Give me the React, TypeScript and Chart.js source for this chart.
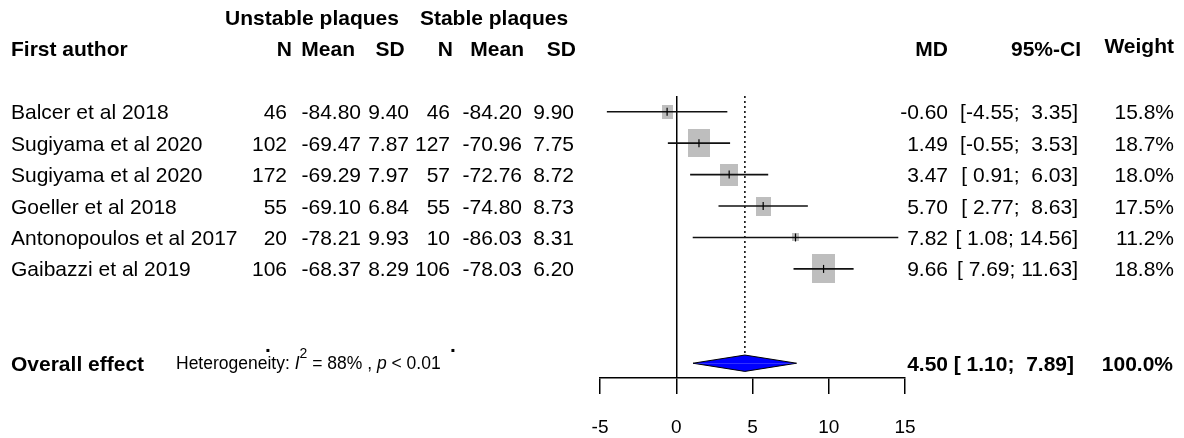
import React, { useEffect, useRef } from "react";
import { Chart, registerables } from "chart.js";

Chart.register(...registerables);

// ---------- data ----------
const authors = [
  "Balcer et al 2018",
  "Sugiyama et al 2020",
  "Sugiyama et al 2020",
  "Goeller et al 2018",
  "Antonopoulos et al 2017",
  "Gaibazzi et al 2019",
];
const nUnstable = [46, 102, 172, 55, 20, 106];
const meanUnstable = [-84.8, -69.47, -69.29, -69.1, -78.21, -68.37];
const sdUnstable = [9.4, 7.87, 7.97, 6.84, 9.93, 8.29];
const nStable = [46, 127, 57, 55, 10, 106];
const meanStable = [-84.2, -70.96, -72.76, -74.8, -86.03, -78.03];
const sdStable = [9.9, 7.75, 8.72, 8.73, 8.31, 6.2];
const md = [-0.6, 1.49, 3.47, 5.7, 7.82, 9.66];
const ciLower = [-4.55, -0.55, 0.91, 2.77, 1.08, 7.69];
const ciUpper = [3.35, 3.53, 6.03, 8.63, 14.56, 11.63];
const weights = [15.8, 18.7, 18.0, 17.5, 11.2, 18.8];
const overall = { md: 4.5, lower: 1.1, upper: 7.89, weight: 100.0 };
const heterogeneityI2 = 88;
const heterogeneityP = "< 0.01";
const xTicks = [-5, 0, 5, 10, 15];

// ---------- layout ----------
const FONT = '"Liberation Sans", Arial, Helvetica, sans-serif';
const FS = 21;
const GROUP_ROW = -3;
const HEADER_ROW = -2;
const OVERALL_ROW = authors.length + 2;
const DIAMOND_HALF = 0.26;

const fmt = (v: number) => v.toFixed(2);
const loStr = ciLower.concat([overall.lower]).map(fmt);
const hiStr = ciUpper.concat([overall.upper]).map(fmt);
const loW = Math.max(...loStr.map((s) => s.length));
const hiW = Math.max(...hiStr.map((s) => s.length));
const ciText = (i: number) =>
  "[" + loStr[i].padStart(loW, " ") + "; " + hiStr[i].padStart(hiW, " ") + "]";

const textPlugin = {
  id: "forestText",
  afterDraw(chart: any) {
    const ctx = chart.ctx as CanvasRenderingContext2D;
    const ys = chart.scales.y;
    const rowY = (r: number) => ys.getPixelForValue(r);
    const put = (
      t: string,
      x: number,
      r: number,
      align: CanvasTextAlign,
      bold = false,
      size = FS
    ) => {
      ctx.font = `${bold ? "bold " : ""}${size}px ${FONT}`;
      ctx.textAlign = align;
      ctx.textBaseline = "alphabetic";
      ctx.fillStyle = "#000";
      ctx.fillText(t, x, rowY(r) + (size * 0.716) / 2);
    };
    ctx.save();
    // group headers
    put("Unstable plaques", 312, GROUP_ROW, "center", true);
    put("Stable plaques", 494, GROUP_ROW, "center", true);
    // column headers
    put("First author", 11, HEADER_ROW, "left", true);
    put("N", 292, HEADER_ROW, "right", true);
    put("Mean", 355, HEADER_ROW, "right", true);
    put("SD", 390, HEADER_ROW, "center", true);
    put("N", 453, HEADER_ROW, "right", true);
    put("Mean", 524, HEADER_ROW, "right", true);
    put("SD", 576, HEADER_ROW, "right", true);
    put("MD", 948, HEADER_ROW, "right", true);
    put("95%-CI", 1081, HEADER_ROW, "right", true);
    put("Weight", 1174, HEADER_ROW - 0.1, "right", true);
    // study rows
    authors.forEach((a, i) => {
      put(a, 11, i, "left");
      put(String(nUnstable[i]), 287, i, "right");
      put(fmt(meanUnstable[i]), 361, i, "right");
      put(fmt(sdUnstable[i]), 409, i, "right");
      put(String(nStable[i]), 450, i, "right");
      put(fmt(meanStable[i]), 522, i, "right");
      put(fmt(sdStable[i]), 574, i, "right");
      put(fmt(md[i]), 948, i, "right");
      put(ciText(i), 1078, i, "right");
      put(weights[i].toFixed(1) + "%", 1174, i, "right");
    });
    // stray dots
    put(".", 268, OVERALL_ROW - 0.6, "center", true);
    put(".", 453, OVERALL_ROW - 0.6, "center", true);
    // overall row
    put("Overall effect", 11, OVERALL_ROW, "left", true);
    put(fmt(overall.md), 948, OVERALL_ROW, "right", true);
    put(ciText(authors.length), 1074, OVERALL_ROW, "right", true);
    put(overall.weight.toFixed(1) + "%", 1173, OVERALL_ROW, "right", true);
    // heterogeneity
    const hs = 17.5;
    const base = rowY(OVERALL_ROW) + (hs * 0.716) / 2;
    let x = 176;
    const seg = (t: string, style: string, size: number, dy: number) => {
      ctx.font = `${style}${size}px ${FONT}`;
      ctx.textAlign = "left";
      ctx.fillText(t, x, base + dy);
      x += ctx.measureText(t).width;
    };
    seg("Heterogeneity: ", "", hs, 0);
    seg("I", "italic ", hs, 0);
    seg("2", "", 14, -11);
    seg(` = ${heterogeneityI2}% , `, "", hs, 0);
    seg("p", "italic ", hs, 0);
    seg(` ${heterogeneityP}`, "", hs, 0);
    ctx.restore();
  },
};

export default function App() {
  const ref = useRef<HTMLCanvasElement>(null);
  useEffect(() => {
    if (!ref.current) return;
    const fw = ciLower.map((lo, i) => {
      const se = (ciUpper[i] - lo) / 3.92;
      return 1 / (se * se);
    });
    const wmax = Math.max(...fw);
    const boxes = fw.map((w) => {
      const s = Math.sqrt(w / wmax);
      const c = document.createElement("canvas");
      const bw = Math.max(2, Math.round(23 * s));
      const bh = Math.max(2, Math.round(29 * s));
      c.width = bw;
      c.height = bh;
      const g = c.getContext("2d")!;
      g.fillStyle = "#bebebe";
      g.fillRect(0, 0, bw, bh);
      return c;
    });

    const ciSets = authors.map((_, i) => ({
      type: "line" as const,
      data: [
        { x: ciLower[i], y: i },
        { x: ciUpper[i], y: i },
      ],
      borderColor: "#111",
      borderWidth: 1.6,
      pointRadius: 0,
      fill: false,
      order: 1,
    }));

    const chart = new Chart(ref.current, {
      type: "line",
      data: {
        datasets: [
          {
            data: md.map((m, i) => ({ x: m, y: i })),
            showLine: false,
            pointStyle: "line",
            rotation: 90,
            pointRadius: 4,
            pointBorderWidth: 1.2,
            pointBorderColor: "#000",
            order: 0,
          } as any,
          ...ciSets,
          {
            data: md.map((m, i) => ({ x: m, y: i })),
            showLine: false,
            pointStyle: (c: any) => boxes[c.dataIndex],
            pointRadius: 5,
            order: 2,
          } as any,
          {
            data: [
              { x: overall.lower, y: OVERALL_ROW },
              { x: overall.md, y: OVERALL_ROW - DIAMOND_HALF },
              { x: overall.upper, y: OVERALL_ROW },
            ],
            borderColor: "#000",
            borderWidth: 1,
            backgroundColor: "#0000ff",
            fill: { value: OVERALL_ROW },
            pointRadius: 0,
            tension: 0,
            order: 3,
          },
          {
            data: [
              { x: overall.lower, y: OVERALL_ROW },
              { x: overall.md, y: OVERALL_ROW + DIAMOND_HALF },
              { x: overall.upper, y: OVERALL_ROW },
            ],
            borderColor: "#000",
            borderWidth: 1,
            backgroundColor: "#0000ff",
            fill: { value: OVERALL_ROW },
            pointRadius: 0,
            tension: 0,
            order: 3,
          },
          {
            data: [
              { x: overall.md, y: -0.5 },
              { x: overall.md, y: OVERALL_ROW - DIAMOND_HALF },
            ],
            borderColor: "#000",
            borderWidth: 1.5,
            borderDash: [2, 3],
            pointRadius: 0,
            fill: false,
            order: 4,
          },
        ],
      },
      options: {
        animation: false,
        responsive: true,
        maintainAspectRatio: false,
        events: [],
        layout: { padding: { left: 600, right: 279, top: 96, bottom: 0 } },
        plugins: {
          legend: { display: false },
          tooltip: { enabled: false },
          title: { display: false },
        },
        scales: {
          x: {
            type: "linear",
            min: -5,
            max: 15,
            afterBuildTicks: (s: any) => {
              s.ticks = xTicks.map((v) => ({ value: v }));
            },
            afterFit: (s: any) => {
              s.height = 60;
            },
            border: { display: true, color: "#000", width: 1.5 },
            grid: {
              drawOnChartArea: true,
              drawTicks: true,
              tickLength: 16,
              lineWidth: 1.5,
              color: (c: any) =>
                c.tick && c.tick.value === 0 ? "#000" : "rgba(0,0,0,0)",
              tickColor: "#000",
            },
            ticks: {
              color: "#000",
              padding: 22,
              maxRotation: 0,
              autoSkip: false,
              font: { family: FONT, size: 19 },
            },
          },
          y: {
            type: "linear",
            display: false,
            reverse: true,
            min: -0.5,
            max: OVERALL_ROW + 0.47,
          },
        },
      },
      plugins: [textPlugin],
    } as any);
    return () => chart.destroy();
  }, []);
  return (
    <div
      style={{
        position: "fixed",
        left: 0,
        top: 0,
        width: 1184,
        height: 438,
        background: "#fff",
      }}
    >
      <canvas ref={ref} />
    </div>
  );
}
